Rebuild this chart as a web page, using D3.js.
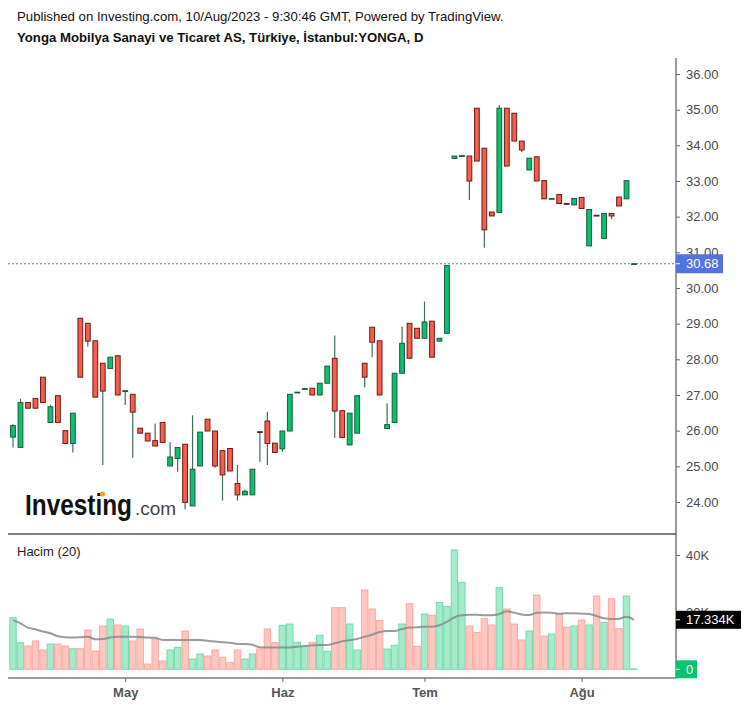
<!DOCTYPE html>
<html><head><meta charset="utf-8">
<script src="https://cdn.jsdelivr.net/npm/d3@7"></script>
<style>body{margin:0;background:#fff}svg{display:block;font-family:"Liberation Sans",Arial,sans-serif}</style>
</head><body>
<svg id="c" width="747" height="707"></svg>
<script>
const dates = [
"2023-04-07","2023-04-10","2023-04-11","2023-04-12","2023-04-13","2023-04-14","2023-04-17","2023-04-18","2023-04-19","2023-04-20",
"2023-04-24","2023-04-25","2023-04-26","2023-04-27","2023-04-28",
"2023-05-02","2023-05-03","2023-05-04","2023-05-05","2023-05-08","2023-05-09","2023-05-10","2023-05-11","2023-05-12",
"2023-05-15","2023-05-16","2023-05-17","2023-05-18","2023-05-22","2023-05-23","2023-05-24","2023-05-25","2023-05-26",
"2023-05-29","2023-05-30","2023-05-31",
"2023-06-01","2023-06-02","2023-06-05","2023-06-06","2023-06-07","2023-06-08","2023-06-09","2023-06-12","2023-06-13",
"2023-06-14","2023-06-15","2023-06-16","2023-06-19","2023-06-20","2023-06-21","2023-06-22","2023-06-23","2023-06-26","2023-06-27",
"2023-07-03","2023-07-04","2023-07-05","2023-07-06","2023-07-07","2023-07-10","2023-07-11","2023-07-12","2023-07-13","2023-07-14",
"2023-07-17","2023-07-18","2023-07-19","2023-07-20","2023-07-21","2023-07-24","2023-07-25","2023-07-26","2023-07-27","2023-07-28",
"2023-07-31",
"2023-08-01","2023-08-02","2023-08-03","2023-08-04","2023-08-07","2023-08-08","2023-08-09","2023-08-10"];

const open = [25.82,25.53,26.79,26.90,27.50,26.23,26.98,26.00,25.64,29.15,
29.01,28.52,27.89,27.74,28.10,27.10,27.02,26.07,25.93,25.72,
26.23,25.01,25.22,25.62,23.89,25.01,26.32,25.99,25.44,25.50,
24.52,24.20,24.20,25.97,26.27,25.65,25.49,25.99,27.07,27.17,
27.19,27.00,27.33,28.03,26.56,25.60,25.93,27.89,28.90,28.52,
26.06,26.23,27.61,29.01,28.87,28.59,29.07,28.51,28.73,33.63,
33.70,33.70,35.04,33.92,32.13,32.12,35.04,34.90,34.12,33.31,
33.68,33.01,32.50,32.62,32.37,32.33,32.54,31.18,32.04,31.39,
32.09,32.55,32.50,30.68];
const high = [26.18,26.90,26.79,26.90,27.50,26.73,26.98,26.00,26.49,29.15,
29.01,28.52,27.89,28.06,28.10,27.13,27.02,26.07,25.93,26.20,
26.23,25.68,25.53,25.62,26.43,25.96,26.32,25.99,25.44,25.50,
25.04,24.35,24.92,25.97,26.53,25.65,25.99,27.02,27.08,27.18,
27.19,27.33,27.81,28.67,26.56,26.49,26.98,27.89,28.90,28.52,
26.77,27.61,28.92,29.01,28.87,29.62,29.07,28.59,30.63,33.70,
33.71,33.70,35.04,33.92,32.13,35.13,35.04,34.90,34.12,33.64,
33.68,33.01,32.51,32.62,32.37,32.51,32.54,32.20,32.04,32.09,
32.09,32.55,33.01,30.68];
const low = [25.53,25.53,26.63,26.63,26.79,26.23,26.23,25.64,25.39,27.50,
28.36,26.94,25.04,27.74,27.00,26.72,25.24,25.93,25.71,25.57,
25.67,25.01,24.85,23.80,23.89,25.01,25.99,24.96,24.04,24.87,
24.04,24.20,24.20,25.13,25.04,25.39,25.41,25.99,27.07,27.17,
27.00,27.00,27.33,25.80,25.81,25.60,25.93,27.21,28.06,27.00,
26.06,26.23,27.61,28.03,28.59,28.59,28.06,28.51,28.73,33.63,
33.70,32.47,33.56,31.13,32.02,32.12,33.42,34.12,33.81,33.31,
33.00,32.50,32.50,32.37,32.35,32.33,32.23,31.18,32.02,31.39,
31.93,32.30,32.50,30.68];
const close = [26.14,26.79,26.63,26.63,26.79,26.67,26.23,25.64,26.49,27.50,
28.51,26.94,27.11,28.06,27.00,27.12,26.52,25.93,25.71,25.57,
25.67,25.26,25.53,23.99,24.92,25.96,25.99,25.01,24.76,24.87,
24.20,24.30,24.92,25.95,25.64,25.39,25.99,27.02,27.08,27.18,
27.00,27.33,27.81,26.55,25.81,26.49,26.98,27.50,28.48,27.00,
26.17,27.61,28.45,28.03,28.59,29.05,28.06,28.59,30.63,33.70,
33.71,33.00,33.56,31.63,32.02,35.04,33.42,34.12,33.87,33.64,
33.00,32.50,32.51,32.37,32.35,32.51,32.23,32.20,32.02,32.09,
32.02,32.30,33.01,30.68];
// volume in thousands
const volume = [18.06,9.3,8.15,9.9,6.75,8.85,8.85,8.15,7.2,7.2,
13.75,6.4,15.15,17.6,15.5,15.15,9.9,14.1,1.85,10.6,
2.9,6.75,7.7,13.4,3.6,5.35,4.65,6.75,4.2,2.45,
6.75,3.6,5.35,7.1,14.1,9.3,15.4,15.85,9.45,7.9,
9.45,11.9,6.3,21.56,21.56,15.85,6.75,27.75,21.1,17.1,
7.1,8.4,15.85,22.96,8.05,19.35,18.9,23.4,22.0,41.75,
30.4,15.15,12.9,17.7,15.5,28.56,21.1,15.85,10.25,13.4,
26.0,11.65,12.35,19.35,14.7,15.15,17.25,15.5,25.65,16.45,
24.7,14.2,25.65,0.15];
const volumeMA = [17.2,16.1,14.6,14.0,13.2,12.6,11.55,11.2,11.1,11.2,
11.4,10.5,10.6,11.1,11.4,11.4,11.4,11.3,11.1,11.0,
10.25,10.25,10.25,10.25,10.25,10.25,10.0,9.7,9.45,9.3,
8.85,8.85,8.6,7.7,7.6,7.6,7.6,7.6,7.9,8.15,
8.4,8.5,8.5,9.1,9.8,10.25,10.6,11.4,12.1,13.05,
13.4,13.4,14.1,14.6,14.7,14.9,14.9,15.4,16.65,18.2,
18.9,19.1,19.1,18.9,18.9,19.35,20.3,19.8,19.2,19.0,
19.8,19.9,19.8,19.45,19.6,19.6,19.45,19.35,18.65,17.85,
17.6,17.7,18.4,17.33];
const priceTicks = [24,25,26,27,28,29,30,31,32,33,34,35,36];
const volumeTicks = [0,20,40];
const monthTickDates = ["2023-05-02","2023-06-01","2023-07-03","2023-08-01"];
const monthTickLabels = ["May","Haz","Tem","Ağu"];
const lastPrice = 30.68;
const lastMA = 17.334;

const svg = d3.select("#c");
const L = 8, R = 676;
const x = d3.scalePoint().domain(dates).range([13, 634]);
const yP = d3.scaleLinear().domain([24, 36]).range([502, 74]);
const yV = d3.scaleLinear().domain([0, 40]).range([669.3, 555]);

const UP = "#0dbf70", UPB = "#1d5c3c", DN = "#f65d4f", DNB = "#6a1d17", WICK = "#3f6f55";
const data = dates.map((d, i) => ({d, o: open[i], h: high[i], l: low[i], c: close[i], v: volume[i], ma: volumeMA[i]}));
const isUp = d => d.c >= d.o;

// Header
svg.append("text").attr("x", 17).attr("y", 21).attr("font-size", 13.2).attr("fill", "#111")
  .text("Published on Investing.com, 10/Aug/2023 - 9:30:46 GMT, Powered by TradingView.");
svg.append("text").attr("x", 17).attr("y", 42).attr("font-size", 13.2).attr("font-weight", "bold").attr("fill", "#111")
  .text("Yonga Mobilya Sanayi ve Ticaret AS, Türkiye, İstanbul:YONGA, D");

// Watermark logo
svg.append("text").attr("x", 25).attr("y", 515).attr("font-size", 29).attr("font-weight", "bold").attr("fill", "#111")
  .attr("textLength", 107).attr("lengthAdjust", "spacingAndGlyphs").text("Investing");
svg.append("text").attr("x", 135).attr("y", 515).attr("font-size", 19).attr("fill", "#444").text(".com");
svg.append("circle").attr("cx", 102.5).attr("cy", 494).attr("r", 2.6).attr("fill", "#f7a21b");

// Volume bars
const bw = 6.4;
svg.append("g").selectAll("rect").data(data).join("rect")
  .attr("x", d => x(d.d) - bw / 2).attr("width", bw)
  .attr("y", d => yV(d.v)).attr("height", d => Math.max(0.5, yV(0) - yV(d.v)))
  .attr("fill", d => isUp(d) ? "#a6e9cb" : "#ffc7c2")
  .attr("stroke", d => isUp(d) ? "#74dbab" : "#ffa69f").attr("stroke-width", 1);

// Volume MA
svg.append("path").datum(data)
  .attr("d", d3.line().x(d => x(d.d)).y(d => yV(d.ma)).curve(d3.curveMonotoneX))
  .attr("fill", "none").attr("stroke", "#8a8a8a").attr("stroke-width", 2).attr("stroke-opacity", 0.85);

// Last price dotted line
svg.append("line").attr("x1", L).attr("x2", R).attr("y1", yP(lastPrice)).attr("y2", yP(lastPrice))
  .attr("stroke", "#5272e0").attr("stroke-width", 1).attr("stroke-dasharray", "2,2");

// Candles
const cg = svg.append("g");
cg.selectAll("line").data(data).join("line")
  .attr("x1", d => x(d.d)).attr("x2", d => x(d.d))
  .attr("y1", d => yP(d.h)).attr("y2", d => yP(d.l))
  .attr("stroke", WICK).attr("stroke-width", 1.2);
const cw = 4.8;
cg.selectAll("rect").data(data).join("rect")
  .attr("x", d => x(d.d) - cw / 2).attr("width", cw)
  .attr("y", d => yP(Math.max(d.o, d.c)))
  .attr("height", d => Math.max(0.8, Math.abs(yP(d.o) - yP(d.c))))
  .attr("fill", d => isUp(d) ? UP : DN)
  .attr("stroke", d => isUp(d) ? UPB : DNB).attr("stroke-width", 1);

// Frame lines
svg.append("line").attr("x1", R).attr("x2", R).attr("y1", 58).attr("y2", 678).attr("stroke", "#7a7a7a").attr("stroke-width", 1.5);
svg.append("line").attr("x1", L).attr("x2", R).attr("y1", 534).attr("y2", 534).attr("stroke", "#555").attr("stroke-width", 1.5);
svg.append("line").attr("x1", L).attr("x2", R).attr("y1", 678).attr("y2", 678).attr("stroke", "#7a7a7a").attr("stroke-width", 1.5);

// Price axis
const pa = svg.append("g").attr("transform", `translate(${R},0)`)
  .call(d3.axisRight(yP).tickValues(priceTicks).tickFormat(d3.format(".2f")).tickSize(4).tickPadding(6));
pa.select(".domain").remove();
pa.selectAll("line").attr("stroke", "#666");
pa.selectAll("text").attr("font-size", 13).attr("fill", "#4a4a4a").attr("font-family", "Liberation Sans, Arial, sans-serif");

// Volume axis
const va = svg.append("g").attr("transform", `translate(${R},0)`)
  .call(d3.axisRight(yV).tickValues(volumeTicks).tickFormat(d => d === 0 ? "0" : d + "K").tickSize(4).tickPadding(6));
va.select(".domain").remove();
va.selectAll("line").attr("stroke", "#666");
va.selectAll("text").attr("font-size", 13).attr("fill", "#4a4a4a").attr("font-family", "Liberation Sans, Arial, sans-serif");

// X axis
const xa = svg.append("g").attr("transform", "translate(0,678)")
  .call(d3.axisBottom(x).tickValues(monthTickDates).tickFormat(d => monthTickLabels[monthTickDates.indexOf(d)]).tickSize(4).tickPadding(6));
xa.select(".domain").remove();
xa.selectAll("line").attr("stroke", "#666");
xa.selectAll("text").attr("font-size", 13).attr("font-weight", "bold").attr("fill", "#555").attr("font-family", "Liberation Sans, Arial, sans-serif");

// "Hacim (20)"
svg.append("text").attr("x", 17).attr("y", 556).attr("font-size", 13).attr("fill", "#222").text("Hacim (20)");

// Price label box
const py = yP(lastPrice);
svg.append("rect").attr("x", R).attr("y", py - 9.5).attr("width", 47).attr("height", 19).attr("fill", "#5373e2");
svg.append("line").attr("x1", R).attr("x2", R + 4).attr("y1", py).attr("y2", py).attr("stroke", "#fff");
svg.append("text").attr("x", R + 10).attr("y", py + 4.6).attr("font-size", 13).attr("fill", "#fff").text(lastPrice.toFixed(2));

// MA label box
const my = yV(lastMA);
svg.append("rect").attr("x", R).attr("y", my - 9).attr("width", 65).attr("height", 18).attr("fill", "#000");
svg.append("line").attr("x1", R).attr("x2", R + 4).attr("y1", my).attr("y2", my).attr("stroke", "#fff");
svg.append("text").attr("x", R + 10).attr("y", my + 4.6).attr("font-size", 13).attr("fill", "#fff").text(lastMA.toFixed(3) + "K");

// Zero volume label box
const zy = yV(0);
svg.append("rect").attr("x", R).attr("y", zy - 9).attr("width", 21).attr("height", 18).attr("fill", "#0bc26f");
svg.append("line").attr("x1", R).attr("x2", R + 4).attr("y1", zy).attr("y2", zy).attr("stroke", "#fff");
svg.append("text").attr("x", R + 10).attr("y", zy + 4.6).attr("font-size", 13).attr("fill", "#fff").text("0");
</script>
</body></html>
